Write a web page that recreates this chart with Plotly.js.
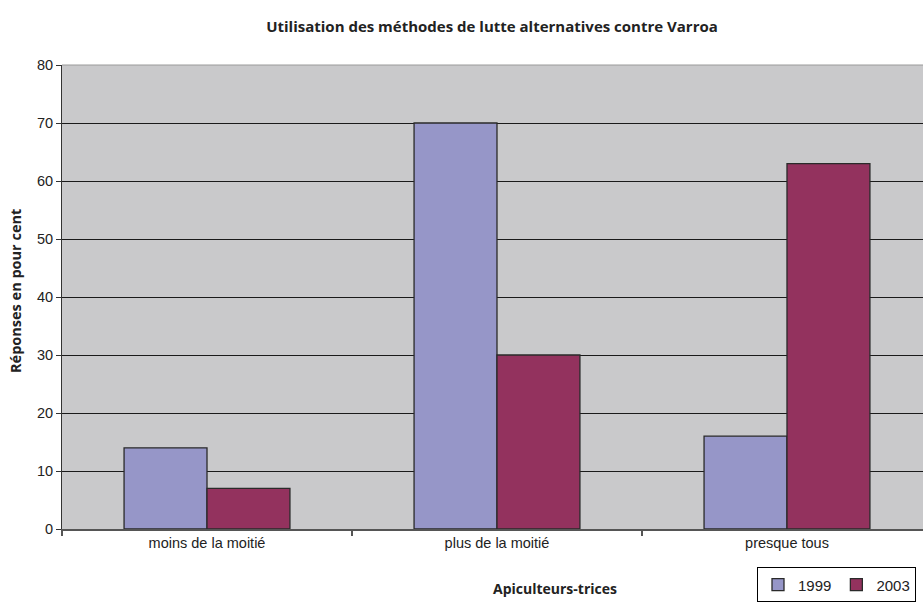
<!DOCTYPE html>
<html><head><meta charset="utf-8">
<script src="https://cdn.plot.ly/plotly-3.0.1.min.js"></script>
<style>html,body{margin:0;padding:0;background:#fff}#chart{width:923px;height:603px}</style>
</head><body><div id="chart"></div>
<script>
const categories = ["moins de la moitié", "plus de la moitié", "presque tous"];
const series1999 = [14, 70, 16];
const series2003 = [7, 30, 63];
const seriesNames = ["1999", "2003"];

const traces = [
  {type:"bar", name:seriesNames[0], x:categories, y:series1999,
   marker:{color:"#9696c8", line:{color:"#2a2a2a", width:1.3}}},
  {type:"bar", name:seriesNames[1], x:categories, y:series2003,
   marker:{color:"#93325e", line:{color:"#2a2a2a", width:1.3}}}
];

const layout = {
  width:923, height:603,
  margin:{l:62, r:0, t:65, b:74},
  paper_bgcolor:"#ffffff", plot_bgcolor:"#c9c9cb",
  barmode:"group", bargap:0.428, bargroupgap:0,
  font:{family:"Liberation Sans, Arial, sans-serif", size:14.5, color:"#222"},
  title:{text:"<b>Utilisation des méthodes de lutte alternatives contre Varroa</b>",
         font:{family:"Open Sans, sans-serif", size:15, color:"#222"},
         x:492/923, xanchor:"center", y:1-27/603, yanchor:"middle"},
  xaxis:{type:"category", range:[-0.5, 2.469], tickson:"boundaries",
         ticks:"outside", ticklen:5, tickcolor:"#555", tickwidth:1.5, showgrid:false,
         showline:true, linecolor:"#555", linewidth:2,
         tickfont:{size:14.5, color:"#222"}, fixedrange:true},
  yaxis:{range:[0,80], dtick:10, ticks:"outside", ticklen:5, tickcolor:"#333",
         showline:true, linecolor:"#333", linewidth:1,
         gridcolor:"#1a1a1a", gridwidth:1, zeroline:false,
         tickfont:{size:14.5, color:"#222"}},
  annotations:[
    {text:"<b>Apiculteurs-trices</b>", xref:"paper", yref:"paper",
     x:(555-62)/861, y:(529-588)/464, xanchor:"center", yanchor:"middle", showarrow:false,
     font:{family:"Open Sans, sans-serif", size:14, color:"#222"}},
    {text:"<b>Réponses en pour cent</b>", xref:"paper", yref:"paper", textangle:-90,
     x:(15-62)/861, y:(529-291)/464, xanchor:"center", yanchor:"middle", showarrow:false,
     font:{family:"Open Sans, sans-serif", size:14.5, color:"#222"}}
  ],
  shapes:[{type:"line", xref:"paper", yref:"paper", x0:0, x1:1, y0:1, y1:1,
           line:{color:"#9a9a9a", width:1}}],
  legend:{orientation:"h", xref:"container", yref:"container",
          x:757/923, y:0.001, xanchor:"left", yanchor:"bottom",
          bgcolor:"#ffffff", bordercolor:"#000", borderwidth:1,
          font:{size:15, color:"#222"}, traceorder:"normal"}
};
Plotly.newPlot("chart", traces, layout, {displayModeBar:false, staticPlot:true});
</script></body></html>
